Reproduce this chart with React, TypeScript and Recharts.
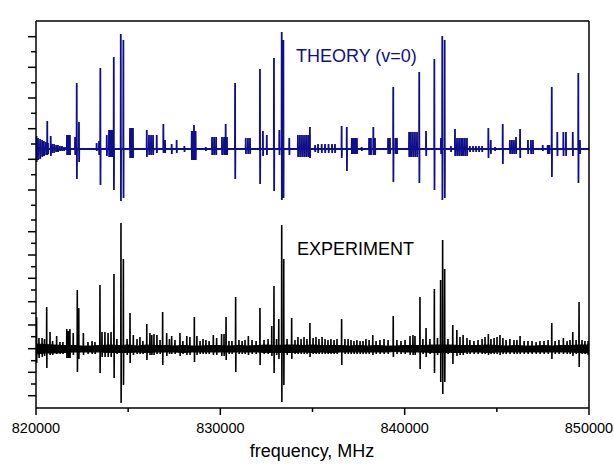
import React from 'react'
import { ComposedChart, Line, Area, XAxis, YAxis } from 'recharts'

// sticks: [frequency MHz, positive lobe, negative lobe] (display units, 1 unit ~ 1px)
const theorySticks: [number, number, number][] = [
  [820030, 13, 13], [820110, 11, 11], [820220, 10, 10], [820330, 9, 8], [820430, 8, 7],
  [820540, 7, 6], [820610, 28, 6], [820650, 6, 5], [820800, 13, 7], [820870, 5, 4],
  [820980, 5, 4], [821090, 4, 3], [821190, 4, 3], [821300, 3, 2], [821410, 3, 2],
  [821520, 2, 2], [821630, 2, 1], [821680, 14, 6], [821760, 14, 6], [821840, 14, 6],
  [822120, 12, 6], [822210, 66, 30], [822330, 27, 13], [823290, 6, 2], [823420, 8, 6],
  [823490, 81, 36], [823840, 14, 7], [823960, 19, 8], [824040, 19, 8], [824120, 19, 8],
  [824220, 92, 41], [824600, 115, 52], [824740, 109, 49], [825100, 21, 9], [825180, 21, 9],
  [825260, 21, 9], [826010, 19, 8], [826130, 14, 6], [826240, 14, 6], [826350, 14, 6],
  [826550, 14, 4], [826910, 25, 4], [827000, 9, 4], [827360, 5, 5], [827630, 9, 4],
  [828050, 3, 3], [828450, 18, 11], [828520, 18, 11], [828570, 24, 11], [828660, 18, 11],
  [829210, 2, 2], [829550, 12, 6], [829660, 12, 6], [829770, 12, 6], [830090, 12, 6],
  [830200, 12, 6], [830290, 25, 6], [830360, 12, 6], [830800, 66, 30], [831380, 11, 5],
  [831500, 11, 5], [831610, 11, 5], [832150, 80, 35], [832310, 18, 7], [832520, 14, 6],
  [832910, 91, 42], [833200, 19, 6], [833330, 117, 51], [833420, 109, 49], [833740, 11, 6],
  [834210, 14, 8], [834320, 14, 8], [834430, 14, 8], [834540, 14, 8], [834650, 14, 8],
  [834760, 14, 8], [834860, 22, 9], [835140, 4, 3], [835300, 5, 4], [835500, 5, 4],
  [835680, 5, 4], [835870, 5, 4], [836060, 5, 4], [836220, 5, 4], [836580, 23, 9],
  [836860, 22, 22], [837130, 11, 5], [837230, 11, 5], [837310, 11, 5], [837410, 11, 5],
  [837670, 2, 2], [838070, 11, 6], [838170, 11, 6], [838300, 22, 6], [838390, 11, 6],
  [839100, 11, 5], [839200, 11, 5], [839380, 62, 33], [839500, 11, 5], [839580, 11, 5],
  [840240, 17, 8], [840340, 17, 8], [840450, 17, 8], [840560, 17, 8], [840670, 17, 8],
  [840790, 77, 34], [841160, 18, 7], [841610, 90, 41], [841970, 11, 5], [842040, 113, 51],
  [842170, 109, 49], [842510, 3, 3], [842730, 20, 7], [842840, 11, 7], [842950, 11, 7],
  [843060, 11, 7], [843160, 11, 7], [843270, 11, 7], [843380, 11, 7], [843540, 3, 3],
  [843710, 3, 3], [843870, 3, 3], [844030, 3, 3], [844200, 3, 3], [844540, 21, 9],
  [844670, 9, 5], [844900, 2, 2], [845320, 25, 15], [845710, 9, 5], [845820, 9, 5],
  [845930, 9, 5], [846040, 12, 5], [846260, 20, 9], [846690, 9, 5], [846850, 9, 5],
  [846960, 9, 5], [847490, 4, 2], [847760, 4, 5], [847850, 4, 5], [847980, 62, 28],
  [848280, 17, 7], [848610, 17, 7], [848750, 17, 7], [849120, 17, 7], [849420, 76, 34],
  [849510, 9, 5],
]

const experimentSticks: [number, number, number][] = [
  [820030, 32, 14], [820160, 11, 9], [820330, 11, 8], [820460, 10, 7], [820580, 42, 19],
  [820760, 17, 6], [820900, 8, 6], [821120, 13, 5], [821300, 7, 5], [821460, 7, 5],
  [821670, 20, 9], [821760, 18, 9], [821840, 20, 9], [822020, 16, 6], [822240, 59, 23],
  [822320, 41, 10], [822570, 16, 6], [822820, 7, 5], [823040, 8, 5], [823200, 7, 5],
  [823470, 64, 24], [823580, 17, 8], [823740, 17, 8], [823910, 16, 8], [824070, 17, 8],
  [824230, 75, 29], [824390, 10, 5], [824610, 126, 54], [824740, 90, 36], [824940, 10, 6],
  [825100, 36, 14], [825280, 14, 6], [825480, 10, 5], [825640, 12, 5], [825800, 8, 5],
  [826010, 25, 11], [826180, 16, 6], [826280, 14, 6], [826400, 15, 6], [826560, 14, 5],
  [826730, 9, 5], [826870, 37, 16], [827090, 16, 7], [827240, 10, 5], [827360, 13, 5],
  [827540, 9, 5], [827810, 16, 7], [827970, 8, 5], [828180, 13, 6], [828350, 12, 6],
  [828590, 32, 13], [828730, 13, 6], [828900, 8, 5], [829060, 10, 5], [829220, 9, 5],
  [829390, 8, 5], [829620, 14, 6], [829800, 11, 6], [830070, 15, 7], [830200, 15, 7],
  [830310, 32, 11], [830470, 8, 5], [830630, 8, 5], [830830, 52, 23], [831010, 9, 5],
  [831180, 8, 5], [831340, 9, 5], [831520, 13, 6], [831720, 9, 5], [831940, 8, 5],
  [832150, 41, 16], [832370, 9, 5], [832590, 10, 5], [832790, 23, 7], [832910, 63, 24],
  [833050, 10, 6], [833170, 30, 10], [833330, 124, 53], [833440, 90, 36], [833620, 10, 6],
  [833870, 31, 10], [834050, 9, 5], [834210, 12, 5], [834380, 10, 5], [834540, 12, 5],
  [834700, 10, 5], [834860, 26, 8], [835030, 11, 5], [835190, 12, 5], [835350, 10, 5],
  [835520, 12, 5], [835680, 10, 5], [835840, 9, 5], [836000, 10, 5], [836170, 9, 5],
  [836330, 10, 5], [836580, 30, 16], [836760, 10, 5], [836930, 10, 5], [837090, 9, 5],
  [837250, 8, 5], [837410, 9, 5], [837580, 8, 5], [837740, 8, 5], [837900, 10, 5],
  [838070, 9, 5], [838270, 14, 6], [838450, 8, 5], [838660, 9, 5], [838880, 10, 5],
  [839100, 9, 5], [839380, 33, 8], [839580, 9, 5], [839800, 8, 5], [840020, 9, 5],
  [840290, 13, 6], [840450, 14, 6], [840560, 13, 6], [840830, 52, 20], [840990, 10, 5],
  [841160, 21, 8], [841370, 10, 5], [841610, 60, 24], [841780, 11, 6], [841950, 69, 33],
  [842060, 109, 45], [842170, 80, 33], [842350, 10, 5], [842610, 24, 15], [842830, 19, 7],
  [843000, 12, 6], [843170, 14, 6], [843380, 11, 5], [843540, 9, 5], [843760, 8, 5],
  [843980, 9, 5], [844200, 10, 5], [844360, 12, 5], [844540, 15, 6], [844680, 10, 5],
  [844850, 11, 5], [845010, 12, 5], [845170, 14, 6], [845330, 11, 5], [845500, 9, 5],
  [845710, 10, 5], [845930, 9, 5], [846090, 9, 5], [846260, 13, 5], [846480, 8, 5],
  [846690, 8, 5], [846910, 8, 5], [847130, 7, 5], [847340, 8, 5], [847560, 8, 5],
  [847780, 9, 5], [847980, 26, 10], [848160, 8, 5], [848370, 9, 5], [848610, 11, 5],
  [848810, 8, 5], [848970, 9, 5], [849120, 17, 7], [849300, 9, 5], [849460, 47, 18],
  [849620, 9, 5], [849780, 8, 5], [849950, 8, 6],
]

// noise envelope of the experimental trace: [frequency, upper, lower]
const experimentNoise: [number, number, number][] = [
  [820000, 5, 5], [820500, 4.5, 4], [821000, 4, 4], [821500, 3.5, 3.5], [822000, 3.5, 3],
  [822500, 3, 3], [823000, 3, 3], [823500, 3.5, 3], [824000, 4, 3.5], [824500, 3.5, 3.5],
  [825000, 4, 3.5], [825500, 3, 3], [826000, 4, 3.5], [826500, 3.5, 3], [827000, 3.5, 3],
  [827500, 3, 3], [828000, 3.5, 3.5], [828500, 3, 3], [829000, 3, 3], [829500, 3.5, 3],
  [830000, 3.5, 3], [830500, 3, 3], [831000, 3.5, 3], [831500, 3, 3], [832000, 3.5, 3],
  [832500, 4, 3.5], [833000, 3.5, 3.5], [833500, 4, 3.5], [834000, 4, 3.5], [834500, 3.5, 3],
  [835000, 4, 3.5], [835500, 3.5, 3], [836000, 3.5, 3.5], [836500, 3.5, 3], [837000, 3, 3],
  [837500, 3.5, 3], [838000, 3, 3], [838500, 3.5, 3], [839000, 3, 3], [839500, 3, 2.5],
  [840000, 3.5, 3], [840500, 3.5, 3], [841000, 3.5, 3], [841500, 4, 3.5], [842000, 4, 3.5],
  [842500, 4, 3.5], [843000, 3.5, 3.5], [843500, 3.5, 3], [844000, 3.5, 3], [844500, 4, 3.5],
  [845000, 3.5, 3], [845500, 3, 3], [846000, 3.5, 3], [846500, 3, 3], [847000, 3, 3],
  [847500, 3.5, 3], [848000, 3, 3], [848500, 3.5, 3], [849000, 3.5, 3], [849500, 4, 3.5],
  [850000, 4, 4],
]

const THEORY_BASE = 259
const EXPERIMENT_BASE = 59
const X_MIN = 820000
const X_MAX = 850000

const xTicks = [820000, 825000, 830000, 835000, 840000, 845000, 850000]
const yMajorTicks = [371.3, 340.7, 310, 279.3, 248.7, 218, 176.3, 153, 129.7, 106.3, 83, 59.3, 35.7, 12.3]
const yMinorTicks = [356.3, 325.3, 294.7, 264, 233.3, 202.7, 188, 164.7, 141.3, 118, 94.7, 71.3, 47.3, 24]

const buildTrace = (sticks: [number, number, number][], base: number) => {
  const pts = [{ f: X_MIN, v: base }]
  ;[...sticks]
    .sort((a, b) => a[0] - b[0])
    .forEach(([f, up, down]) => {
      pts.push({ f: f - 8, v: base }, { f, v: base + up }, { f: f + 8, v: base - down }, { f: f + 16, v: base })
    })
  pts.push({ f: X_MAX, v: base })
  return pts
}

const theoryData = buildTrace(theorySticks, THEORY_BASE)
const experimentData = buildTrace(experimentSticks, EXPERIMENT_BASE)
const noiseData = experimentNoise.map(([f, up, down]) => ({
  f,
  band: [EXPERIMENT_BASE - down, EXPERIMENT_BASE + up],
}))

const FONT = '"Liberation Sans", Arial, sans-serif'
const NAVY = '#0f0f8c'

const BottomTick = (props: any) => {
  const { x, y, payload } = props
  const major = payload.value % 10000 === 0
  return (
    <g>
      <line x1={x} x2={x} y1={y} y2={y + (major ? 7 : 4)} stroke="#000" strokeWidth={1.5} />
      {major && (
        <text x={x} y={y + 24.5} textAnchor="middle" fontSize={14.5} fontFamily={FONT} fill="#000">
          {payload.value}
        </text>
      )}
    </g>
  )
}

const TopTick = (props: any) => {
  const { x, y } = props
  return <line x1={x} x2={x} y1={y} y2={y - 7} stroke="#000" strokeWidth={1.5} />
}

const LeftTick = (props: any) => {
  const { x, y, payload } = props
  const major = yMajorTicks.includes(payload.value)
  return <line x1={x - (major ? 8 : 5)} x2={x} y1={y} y2={y} stroke="#000" strokeWidth={1.5} />
}

const App = () => {
  return (
    <div style={{ position: 'absolute', left: 0, top: 0, width: 614, height: 464, background: '#fff' }}>
      <ComposedChart width={614} height={464} margin={{ top: 11, right: 24, bottom: 16, left: 16 }}>
        <XAxis
          xAxisId="bottom"
          dataKey="f"
          type="number"
          domain={[X_MIN, X_MAX]}
          allowDataOverflow
          ticks={xTicks}
          interval={0}
          height={40}
          tickSize={0}
          tickMargin={0}
          tick={<BottomTick />}
          axisLine={{ stroke: '#000', strokeWidth: 1.5 }}
        />
        <XAxis
          xAxisId="top"
          orientation="top"
          type="number"
          domain={[X_MIN, X_MAX]}
          allowDataOverflow
          ticks={xTicks}
          interval={0}
          height={10}
          tickSize={0}
          tickMargin={0}
          tick={<TopTick />}
          axisLine={{ stroke: '#000', strokeWidth: 1.5 }}
        />
        <YAxis
          yAxisId="left"
          type="number"
          domain={[0, 387]}
          allowDataOverflow
          ticks={[...yMajorTicks, ...yMinorTicks]}
          interval={0}
          width={20}
          tickSize={0}
          tickMargin={0}
          tick={<LeftTick />}
          axisLine={{ stroke: '#000', strokeWidth: 1.5 }}
        />
        <YAxis
          yAxisId="right"
          orientation="right"
          type="number"
          domain={[0, 387]}
          width={1}
          tick={false}
          tickLine={false}
          axisLine={{ stroke: '#000', strokeWidth: 1.5 }}
        />
        <Area
          xAxisId="bottom"
          yAxisId="left"
          data={noiseData}
          dataKey="band"
          type="linear"
          stroke="#000"
          strokeWidth={1}
          fill="#000"
          fillOpacity={1}
          isAnimationActive={false}
        />
        <Line
          xAxisId="bottom"
          yAxisId="left"
          data={experimentData}
          dataKey="v"
          type="linear"
          stroke="#000"
          strokeWidth={1.6}
          dot={false}
          isAnimationActive={false}
        />
        <Line
          xAxisId="bottom"
          yAxisId="left"
          data={theoryData}
          dataKey="v"
          type="linear"
          stroke={NAVY}
          strokeWidth={1.8}
          dot={false}
          isAnimationActive={false}
        />
      </ComposedChart>
      <svg
        width={614}
        height={464}
        style={{ position: 'absolute', left: 0, top: 0, pointerEvents: 'none' }}
      >
        <text x={296} y={62} fontSize={18} fontFamily={FONT} fill={NAVY}>
          THEORY (v=0)
        </text>
        <text x={297} y={255} fontSize={18} fontFamily={FONT} fill="#000">
          EXPERIMENT
        </text>
        <text x={312} y={457} textAnchor="middle" fontSize={18} fontFamily={FONT} fill="#000">
          frequency, MHz
        </text>
      </svg>
    </div>
  )
}

export default App
